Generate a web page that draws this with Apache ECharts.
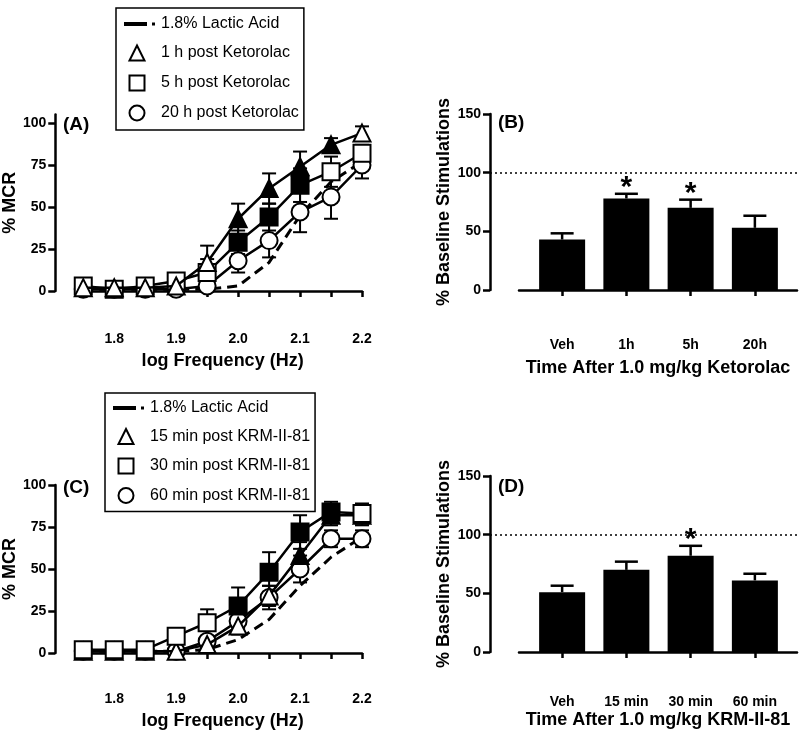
<!DOCTYPE html>
<html><head><meta charset="utf-8">
<script src="https://cdn.jsdelivr.net/npm/echarts@6/dist/echarts.min.js"></script>
<style>html,body{margin:0;padding:0;background:#fff}#c{width:800px;height:735px}</style>
</head><body><div id="c"></div>
<script>
// ---------- DATA ----------
const freqs = [1.75, 1.8, 1.85, 1.9, 1.95, 2.0, 2.05, 2.1, 2.15, 2.2];
const freqTickLabels = ['1.8', '1.9', '2.0', '2.1', '2.2'];

// Panel A (Ketorolac)
const aNames = ['1.8% Lactic Acid', '1 h post Ketorolac', '5 h post Ketorolac', '20 h post Ketorolac'];
const aLactic = [1, 1, 1, 1, 1, 3, 17, 45, 65, 77];
const aTri    = [2, 2, 2, 3, 17, 43, 61, 74, 87, 94];
const aTriErr = [1, 1, 1, 1, 10, 9, 9, 9, 4, 4];
const aTriSig = [0, 0, 0, 0, 0, 1, 1, 1, 1, 0];
const aSq     = [3, 1, 3, 6, 11, 29, 44, 63, 71, 82];
const aSqErr  = [2, 2, 2, 2, 8, 7, 8, 10, 9, 5];
const aSqSig  = [0, 0, 0, 0, 0, 1, 1, 1, 0, 0];
const aCirc   = [1, 1, 1, 1, 3, 18, 30, 47, 56, 75];
const aCircErr= [1, 1, 1, 1, 2, 7, 10, 12, 13, 8];
const aCircSig= [0, 0, 0, 0, 0, 0, 0, 0, 0, 0];

// Panel C (KRM-II-81)
const cNames = ['1.8% Lactic Acid', '15 min post KRM-II-81', '30 min post KRM-II-81', '60 min post KRM-II-81'];
const cLactic = [1, 1, 1, 1, 2, 8, 20, 40, 57, 69];
const cTri    = [1, 1, 1, 1, 5, 16, 34, 58, 82, 82];
const cTriErr = [1, 1, 1, 1, 3, 5, 6, 8, 6, 6];
const cTriSig = [0, 0, 0, 0, 0, 0, 0, 1, 1, 0];
const cSq     = [2, 2, 2, 10, 18, 28, 48, 72, 84, 83];
const cSqErr  = [2, 2, 2, 3, 8, 11, 12, 10, 6, 6];
const cSqSig  = [0, 0, 0, 0, 0, 1, 1, 1, 1, 0];
const cCirc   = [1, 1, 1, 1, 7, 19, 33, 50, 68, 68];
const cCircErr= [1, 1, 1, 1, 3, 4, 7, 8, 5, 5];
const cCircSig= [0, 0, 0, 0, 0, 0, 0, 0, 0, 0];

// Panel B
const bCats = ['Veh', '1h', '5h', '20h'];
const bVals = [43, 78, 70, 53];
const bErr  = [5.3, 4, 7, 10.3];
const bSig  = [0, 1, 1, 0];
// Panel D
const dCats = ['Veh', '15 min', '30 min', '60 min'];
const dVals = [51, 70, 82, 61];
const dErr  = [5.5, 7, 8.5, 5.7];
const dSig  = [0, 0, 1, 0];
const baselineRef = 100;

// ---------- STYLE ----------
const FONT = 'Liberation Sans';
const BLACK = '#000';
const axisLine = {show: true, lineStyle: {color: BLACK, width: 2.5}};
const tick = (len) => ({show: true, length: len, lineStyle: {color: BLACK, width: 2.5}});
const lbl = {color: BLACK, fontFamily: FONT, fontWeight: 'bold', fontSize: 14};
const nameTS = {color: BLACK, fontFamily: FONT, fontWeight: 'bold', fontSize: 18};
const ICONS = [
  'path://M0,0M32,16M0,6H23V10H0ZM28,6.5H31V9.5H28Z',
  'path://M0,0M32,16M13,0.5L20.5,15.5L5.5,15.5Z',
  'path://M0,0M32,16M5.5,0.5H20.5V15.5H5.5Z',
  'path://M0,0M32,16M20.5,8A7.5,7.5,0,1,1,5.5,8A7.5,7.5,0,1,1,20.5,8Z'
];

function renderLineErr(params, api) {
  const x = api.value(0), y = api.value(1), e = api.value(2);
  const top = api.coord([x, y + e]), bot = api.coord([x, y - e]);
  const hw = 7;
  const style = {stroke: BLACK, lineWidth: 2};
  return {type: 'group', children: [
    {type: 'line', shape: {x1: top[0], y1: top[1], x2: bot[0], y2: bot[1]}, style},
    {type: 'line', shape: {x1: top[0] - hw, y1: top[1], x2: top[0] + hw, y2: top[1]}, style},
    {type: 'line', shape: {x1: bot[0] - hw, y1: bot[1], x2: bot[0] + hw, y2: bot[1]}, style}
  ]};
}
function renderBarErr(params, api) {
  const i = api.value(0), v = api.value(1), e = api.value(2), s = api.value(3);
  const base = api.coord([i, v]), top = api.coord([i, v + e]);
  const hw = 11.5;
  const style = {stroke: BLACK, lineWidth: 2.5};
  const children = [
    {type: 'line', shape: {x1: base[0], y1: base[1], x2: top[0], y2: top[1]}, style},
    {type: 'line', shape: {x1: top[0] - hw, y1: top[1], x2: top[0] + hw, y2: top[1]}, style}
  ];
  if (s) children.push({type: 'text', style: {text: '*', x: top[0], y: top[1] - 6, align: 'center', verticalAlign: 'middle',
    font: 'bold 30px "Liberation Sans"', fill: BLACK}});
  return {type: 'group', children};
}

function freqAxis(gi, off) {
  return {type: 'value', gridIndex: gi, min: 1.75, max: 2.2, interval: 0.05, position: 'bottom', offset: off,
    axisLine, axisTick: tick(6), splitLine: {show: false},
    axisLabel: Object.assign({margin: 10, formatter: v => {
      const s = v.toFixed(1);
      return (Math.abs(v * 10 - Math.round(v * 10)) < 1e-6 && freqTickLabels.indexOf(s) >= 0) ? s : '';
    }}, lbl),
    name: 'log Frequency (Hz)', nameLocation: 'middle', nameGap: 30, nameTextStyle: nameTS};
}
function mcrAxis(gi, max) {
  const cv = [0, 25, 50, 75, 100];
  return {type: 'value', gridIndex: gi, min: 0, max: max, position: 'left', offset: 28,
    axisLine, axisTick: Object.assign(tick(7), {customValues: cv}), splitLine: {show: false},
    axisLabel: Object.assign({margin: 9, customValues: cv}, lbl),
    name: '% MCR', nameLocation: 'middle', nameGap: 33, nameTextStyle: nameTS};
}
function hiddenAxis(gi, min, max) {
  return {type: 'value', gridIndex: gi, min, max, show: false, splitLine: {show: false}};
}

function lineSeries(gi, names, lactic, sets) {
  const out = [{type: 'line', name: names[0], xAxisIndex: gi, yAxisIndex: gi,
    data: lactic.map((v, i) => [freqs[i], v]), symbol: 'none',
    lineStyle: {color: BLACK, width: 3, type: [10, 6]}, itemStyle: {color: BLACK}, z: 2, clip: false}];
  sets.forEach((st, k) => {
    out.push({type: 'custom', xAxisIndex: gi, yAxisIndex: gi, silent: true, clip: false, z: 1,
      data: st.vals.map((v, i) => [freqs[i], v, st.err[i]]), renderItem: renderLineErr});
    out.push({type: 'line', name: names[st.nameIdx], xAxisIndex: gi, yAxisIndex: gi, symbol: st.symbol, symbolSize: 17,
      showAllSymbol: true, clip: false, z: 3 + k,
      data: st.vals.map((v, i) => ({value: [freqs[i], v], itemStyle: st.sig[i] ? {color: BLACK} : {}})),
      lineStyle: {color: BLACK, width: 2.5}, itemStyle: {color: '#fff', borderColor: BLACK, borderWidth: 2}});
  });
  return out;
}
function legendFor(names, left, top, gap, padding) {
  return {orient: 'vertical', left, top, itemWidth: 32, itemHeight: 16, itemGap: gap, padding,
    borderColor: BLACK, borderWidth: 1.5, selectedMode: false,
    textStyle: {fontFamily: FONT, fontSize: 16, color: BLACK},
    data: names.map((n, i) => ({name: n, icon: ICONS[i],
      itemStyle: i === 0 ? {color: BLACK, borderWidth: 0} : {color: '#fff', borderColor: BLACK, borderWidth: 2}}))};
}

const TS = (t, left, top) => ({text: t, left, top, padding: 0,
  textStyle: {fontFamily: FONT, fontWeight: 'bold', fontSize: 19, color: BLACK}});

const option = {
  animation: false,
  backgroundColor: '#fff',
  textStyle: {fontFamily: FONT, color: BLACK},
  title: [TS('(A)', 63, 115), TS('(B)', 498, 113), TS('(C)', 63, 478), TS('(D)', 498, 477)],
  legend: [legendFor(aNames, 116, 8, 12, [8, 5, 8, 7]), legendFor(cNames, 105, 393, 11.5, [7, 5, 7, 7])],
  grid: [
    {left: 83, width: 279, top: 114.6, height: 176.4},   // A
    {left: 83, width: 279, top: 485, height: 168},       // C
    {left: 530, width: 257, top: 114, height: 176},      // B bars
    {left: 490, width: 307, top: 114, height: 176},      // B ref line
    {left: 519, width: 278, top: 114, height: 176},      // B axis line
    {left: 530, width: 257, top: 476, height: 176},      // D bars
    {left: 490, width: 307, top: 476, height: 176},      // D ref line
    {left: 519, width: 278, top: 476, height: 176}       // D axis line
  ],
  xAxis: [
    freqAxis(0, 31), freqAxis(1, 29),
    {type: 'category', gridIndex: 2, data: bCats, offset: 28, axisLine: {show: false},
      axisTick: Object.assign(tick(6), {alignWithLabel: true}), axisLabel: Object.assign({margin: 20}, lbl)},
    hiddenAxis(3, 0, 1),
    {type: 'value', gridIndex: 4, min: 0, max: 1, offset: 28, axisLine, axisTick: {show: false}, axisLabel: {show: false},
      splitLine: {show: false}, name: 'Time After 1.0 mg/kg Ketorolac', nameLocation: 'middle', nameGap: 41, nameTextStyle: nameTS},
    {type: 'category', gridIndex: 5, data: dCats, offset: 29, axisLine: {show: false},
      axisTick: Object.assign(tick(6), {alignWithLabel: true}), axisLabel: Object.assign({margin: 14}, lbl)},
    hiddenAxis(6, 0, 1),
    {type: 'value', gridIndex: 7, min: 0, max: 1, offset: 29, axisLine, axisTick: {show: false}, axisLabel: {show: false},
      splitLine: {show: false}, name: 'Time After 1.0 mg/kg KRM-II-81', nameLocation: 'middle', nameGap: 30, nameTextStyle: nameTS}
  ],
  yAxis: [
    mcrAxis(0, 105), mcrAxis(1, 100),
    {type: 'value', gridIndex: 2, min: 0, max: 150, interval: 50, offset: 40, axisLine, axisTick: tick(7),
      splitLine: {show: false}, axisLabel: Object.assign({margin: 9}, lbl),
      name: '% Baseline Stimulations', nameLocation: 'middle', nameGap: 37, nameTextStyle: nameTS},
    hiddenAxis(3, 0, 150), hiddenAxis(4, 0, 150),
    {type: 'value', gridIndex: 5, min: 0, max: 150, interval: 50, offset: 40, axisLine, axisTick: tick(7),
      splitLine: {show: false}, axisLabel: Object.assign({margin: 9}, lbl),
      name: '% Baseline Stimulations', nameLocation: 'middle', nameGap: 37, nameTextStyle: nameTS},
    hiddenAxis(6, 0, 150), hiddenAxis(7, 0, 150)
  ],
  series: [].concat(
    lineSeries(0, aNames, aLactic, [
      {vals: aCirc, err: aCircErr, sig: aCircSig, symbol: 'circle', nameIdx: 3},
      {vals: aSq, err: aSqErr, sig: aSqSig, symbol: 'rect', nameIdx: 2},
      {vals: aTri, err: aTriErr, sig: aTriSig, symbol: 'triangle', nameIdx: 1}
    ]),
    lineSeries(1, cNames, cLactic, [
      {vals: cCirc, err: cCircErr, sig: cCircSig, symbol: 'circle', nameIdx: 3},
      {vals: cTri, err: cTriErr, sig: cTriSig, symbol: 'triangle', nameIdx: 1},
      {vals: cSq, err: cSqErr, sig: cSqSig, symbol: 'rect', nameIdx: 2}
    ]),
    [
      {type: 'bar', xAxisIndex: 2, yAxisIndex: 2, data: bVals, barWidth: 46, itemStyle: {color: BLACK}, z: 2},
      {type: 'custom', xAxisIndex: 2, yAxisIndex: 2, clip: false, silent: true, z: 3,
        data: bVals.map((v, i) => [i, v, bErr[i], bSig[i]]), renderItem: renderBarErr},
      {type: 'line', xAxisIndex: 3, yAxisIndex: 3, data: [], silent: true,
        markLine: {symbol: 'none', silent: true, label: {show: false}, lineStyle: {color: BLACK, width: 1.5, type: [2, 3]},
          data: [{yAxis: baselineRef}]}},
      {type: 'bar', xAxisIndex: 5, yAxisIndex: 5, data: dVals, barWidth: 46, itemStyle: {color: BLACK}, z: 2},
      {type: 'custom', xAxisIndex: 5, yAxisIndex: 5, clip: false, silent: true, z: 3,
        data: dVals.map((v, i) => [i, v, dErr[i], dSig[i]]), renderItem: renderBarErr},
      {type: 'line', xAxisIndex: 6, yAxisIndex: 6, data: [], silent: true,
        markLine: {symbol: 'none', silent: true, label: {show: false}, lineStyle: {color: BLACK, width: 1.5, type: [2, 3]},
          data: [{yAxis: baselineRef}]}}
    ]
  )
};
const chart = echarts.init(document.getElementById('c'), null, {renderer: 'canvas'});
chart.setOption(option);
</script>
</body></html>
